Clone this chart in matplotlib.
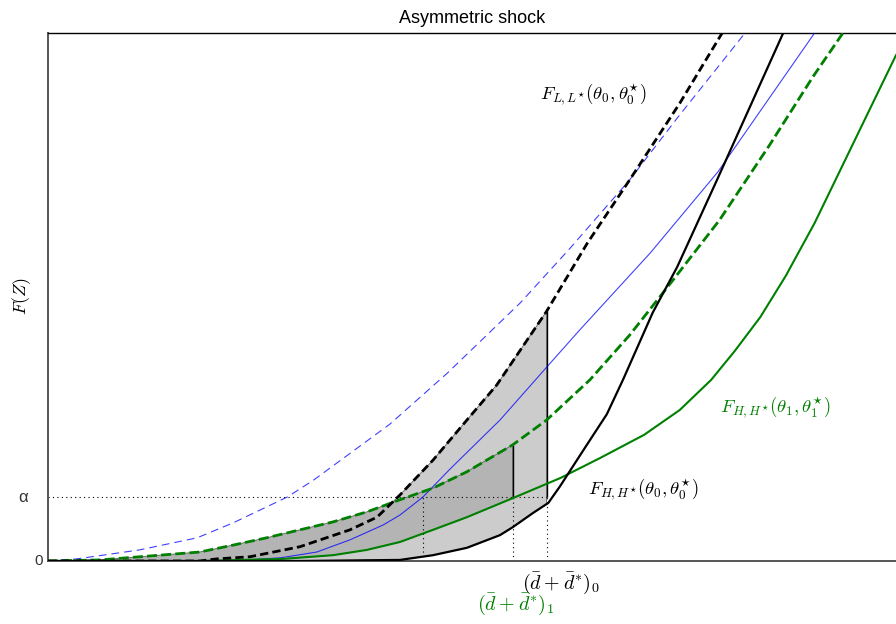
import numpy as np
import matplotlib
matplotlib.use("Agg")
import matplotlib.pyplot as plt

plt.rcParams.update({
    "font.family": ["Liberation Sans", "DejaVu Sans"],
    "mathtext.fontset": "cm",
})

# ---------- данные ----------
alpha = 0.121          # уровень α
d0 = 5.88              # (d̄+d̄*)_0
d1 = 5.48              # (d̄+d̄*)_1
d_blue = 4.42          # пересечение синей сплошной с α

# F_{L,L*}(θ0,θ0*) — чёрная пунктирная
fl0_x = [0, 1.79, 1.99, 2.38, 2.97, 3.56, 3.88, 4.15, 4.54, 4.94, 5.29, 5.88, 6.36, 6.86, 7.45, 7.95]
fl0_y = [0, 0, 0.004, 0.008, 0.027, 0.059, 0.083, 0.125, 0.191, 0.267, 0.333, 0.473, 0.602, 0.722, 0.867, 1.0]

# синяя пунктирная
bd_x = [0, 0.34, 1.08, 1.76, 2.18, 2.82, 3.13, 4.03, 4.71, 5.57, 6.16, 6.86, 7.45, 8.22]
bd_y = [0, 0.004, 0.021, 0.044, 0.072, 0.121, 0.153, 0.259, 0.356, 0.489, 0.593, 0.722, 0.845, 1.0]

# синяя сплошная
bs_x = [0, 2.15, 2.74, 3.17, 3.56, 3.95, 4.15, 4.42, 4.74, 5.33, 5.88, 6.27, 7.10, 7.90, 9.04]
bs_y = [0, 0, 0.006, 0.017, 0.040, 0.068, 0.087, 0.121, 0.174, 0.267, 0.367, 0.4375, 0.583, 0.737, 1.0]

# F_{H,H*}(θ0,θ0*) — чёрная сплошная
fh0_x = [0, 2.97, 4.15, 4.54, 4.94, 5.33, 5.48, 5.72, 5.90, 6.04, 6.33, 6.59, 6.78, 7.13, 7.42, 7.89, 8.67]
fh0_y = [0, 0, 0.002, 0.011, 0.025, 0.049, 0.064, 0.091, 0.110, 0.142, 0.214, 0.278, 0.343, 0.470, 0.557, 0.722, 1.0]

# зелёная пунктирная (θ1)
fl1_x = [0, 0.61, 1.08, 1.79, 2.18, 2.58, 2.97, 3.36, 3.76, 4.15, 4.54, 4.94, 5.48, 5.88,
         6.39, 6.86, 7.37, 7.92, 8.51, 9.02, 9.40]
fl1_y = [0, 0.002, 0.008, 0.017, 0.030, 0.044, 0.059, 0.074, 0.093, 0.116, 0.138, 0.169, 0.220, 0.267,
         0.343, 0.428, 0.532, 0.646, 0.788, 0.917, 1.006]

# F_{H,H*}(θ1,θ1*) — зелёная сплошная
fh1_x = [0, 1.79, 2.77, 3.36, 3.76, 4.15, 4.54, 4.94, 5.48, 6.04, 6.51, 7.03, 7.45, 7.82, 8.10, 8.40, 8.70,
         9.04, 10.0]
fh1_y = [0, 0, 0.004, 0.011, 0.021, 0.036, 0.059, 0.083, 0.119, 0.157, 0.195, 0.239, 0.286, 0.343, 0.398,
         0.462, 0.540, 0.640, 0.958]

GREEN = "#008000"
BLUE = "#0000ff"


def upto(x, y, xmax):
    x, y = np.asarray(x, float), np.asarray(y, float)
    m = x < xmax
    return np.append(x[m], xmax), np.append(y[m], np.interp(xmax, x, y))


def band(ax, xu, yu, xl, yl, xmax, color):
    ux, uy = upto(xu, yu, xmax)
    lx, ly = upto(xl, yl, xmax)
    px = np.concatenate([ux, lx[::-1]])
    py = np.concatenate([uy, ly[::-1]])
    ax.fill(px, py, facecolor=color, edgecolor="#606060", lw=0.6, zorder=1)


fig = plt.figure(figsize=(8.96, 6.24), dpi=100)
ax = fig.add_axes([48 / 896, 63 / 624, 848 / 896, 528 / 624])

band(ax, fl0_x, fl0_y, fh0_x, fh0_y, d0, "#cccccc")
band(ax, fl1_x, fl1_y, fh1_x, fh1_y, d1, "#b4b4b4")

# уровень α и вертикали
ax.hlines(alpha, 0, d0, colors="k", linestyles=(0, (1, 3)), lw=0.8, zorder=2)
for d in (d_blue, d1, d0):
    ax.vlines(d, 0, alpha, colors="k", linestyles=(0, (1, 3)), lw=0.8, zorder=2)
ax.vlines(d0, alpha, np.interp(d0, fl0_x, fl0_y), colors="k", lw=1, zorder=2)
ax.vlines(d1, alpha, np.interp(d1, fl1_x, fl1_y), colors="k", lw=1, zorder=2)

ax.plot(bd_x, bd_y, color=BLUE, lw=0.8, dashes=(7, 4.5), alpha=0.75, zorder=3)
ax.plot(bs_x, bs_y, color=BLUE, lw=0.8, alpha=0.75, zorder=3)
ax.plot(fh1_x, fh1_y, color=GREEN, lw=1.5, zorder=3)
ax.plot(fl1_x, fl1_y, color=GREEN, lw=2, dashes=(3.6, 1.5), zorder=3)
ax.plot(fh0_x, fh0_y, color="k", lw=1.6, zorder=4)
ax.plot(fl0_x, fl0_y, color="k", lw=2, dashes=(3, 1.5), zorder=4)

ax.set_xlim(0, 10)
ax.set_ylim(0, 1)
ax.set_xticks([])
ax.set_yticks([])
ax.spines["right"].set_visible(False)
for s in ("left", "bottom"):
    ax.spines[s].set_color("#555555")
    ax.spines[s].set_linewidth(1.4)
ax.spines["top"].set_linewidth(1)

ax.set_title("Asymmetric shock", fontsize=13, pad=7)
fig.text(22 / 896, 1 - 296 / 624, "$F(Z)$", rotation=90, ha="center", va="center", fontsize=13)

ax.text(-0.024, alpha, "α", transform=ax.get_yaxis_transform(), ha="right", va="center",
        fontsize=12, color="#333333")
ax.text(-0.006, 0, "0", transform=ax.get_yaxis_transform(), ha="right", va="center",
        fontsize=11, color="#333333")

ax.text(5.80, 0.883, r"$F_{L,L^{\star}}(\theta_0,\theta_0^{\star})$", fontsize=13.5, va="center")
ax.text(7.92, 0.290, r"$F_{H,H^{\star}}(\theta_1,\theta_1^{\star})$", fontsize=13.5, va="center", color=GREEN)
ax.text(6.37, 0.134, r"$F_{H,H^{\star}}(\theta_0,\theta_0^{\star})$", fontsize=13.5, va="center")
ax.text(5.59, -0.042, r"$(\bar d+\bar d^{*})_0$", fontsize=14.5, va="center", clip_on=False)
ax.text(5.06, -0.083, r"$(\bar d+\bar d^{*})_1$", fontsize=14.5, va="center", color=GREEN, clip_on=False)

fig.savefig("out.png", dpi=100)
